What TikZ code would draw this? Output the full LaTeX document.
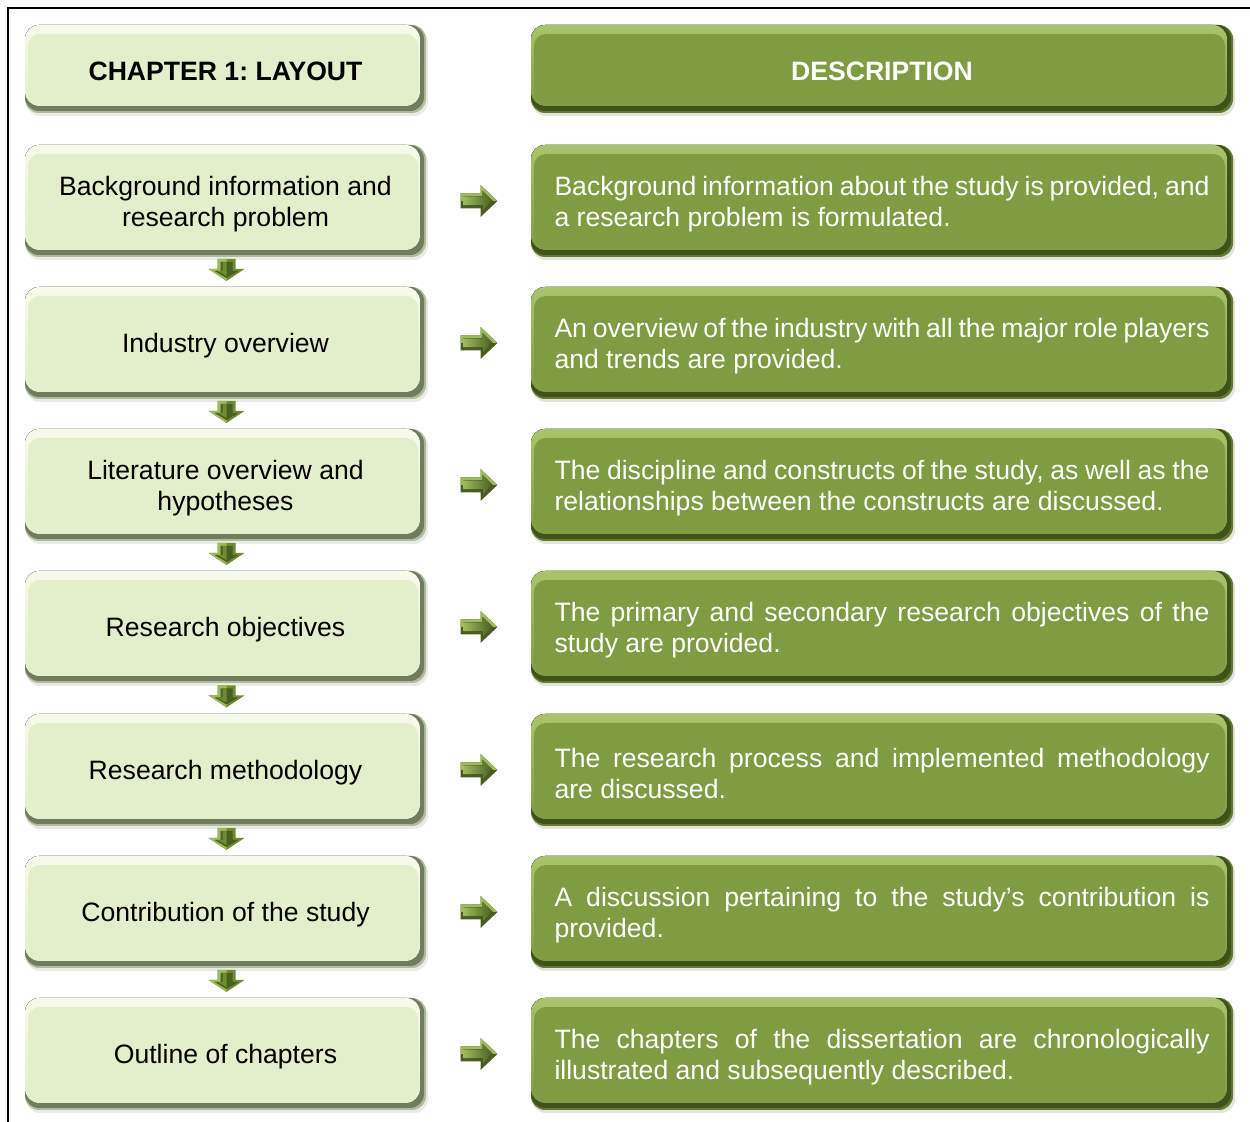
\documentclass[tikz,border=0pt]{standalone}
\usepackage{fontspec}
\setmainfont{Liberation Sans}
\usetikzlibrary{calc,fit}
\frenchspacing

\definecolor{lbase}{HTML}{E3EFCA}
\definecolor{llight}{HTML}{F6FAEC}
\definecolor{ldark}{HTML}{6F7C5E}
\definecolor{rbase}{HTML}{7F9C43}
\definecolor{rlight}{HTML}{A9C46A}
\definecolor{rdark}{HTML}{3F521B}
\definecolor{olivemid}{HTML}{6F8C34}
\definecolor{olivelight}{HTML}{9DBB5C}
\definecolor{olivedark}{HTML}{4A5E22}

% bevelled rounded panel: name, x1, y1, x2, y2, base, light, dark
\newcommand\panel[8]{%
  \fill[#8!50!white, opacity=0.3, rounded corners=7pt] (#2+1,#3+3) rectangle (#4+2,#5+3);
  \fill[#8!45!#6, rounded corners=7pt] (#2,#3) rectangle (#4,#5);
  \fill[#8, rounded corners=7pt] (#2,#3) rectangle (#4-2,#5-2);
  \fill[rounded corners=7pt, top color=#7, bottom color=#6] (#2,#3) rectangle (#4-6,#5-7);
  \fill[#6, rounded corners=6pt] (#2+3,#3+9) rectangle (#4-8,#5-10);
  \fill[#7, opacity=0.45, rounded corners=3pt] (#2+10,#3+3) rectangle (#4-12,#3+9);
  \node[fit={(#2,#3)(#4,#5)}, inner sep=0pt] (#1) {};
}

\tikzset{
  x=0.5pt, y=-0.5pt,
  lefttext/.style={align=center, text=black, font=\fontsize{13.3}{15.5}\selectfont\frenchspacing},
  righttext/.style={align=justify, text width=327.5pt, text=white, font=\fontsize{13.3}{15.5}\selectfont\frenchspacing},
  frameline/.style={line width=1.1pt, black},
}

% small faceted block arrows
\newcommand\downblock[1]{%
  \fill[olivemid] ($(#1)+(-9,-11)$) -- ($(#1)+(9,-11)$) -- ($(#1)+(9,-1)$) -- ($(#1)+(18,-1)$)
     -- ($(#1)+(0,11)$) -- ($(#1)+(-18,-1)$) -- ($(#1)+(-9,-1)$) -- cycle;
  \fill[olivelight] ($(#1)+(-9,-11)$) -- ($(#1)+(0,-11)$) -- ($(#1)+(0,11)$) -- ($(#1)+(-18,-1)$) -- ($(#1)+(-9,-1)$) -- cycle;
  \fill[olivedark] ($(#1)+(-6,-8)$) -- ($(#1)+(6,-8)$) -- ($(#1)+(6,1)$) -- ($(#1)+(12,1)$)
     -- ($(#1)+(0,8)$) -- ($(#1)+(-12,1)$) -- ($(#1)+(-6,1)$) -- cycle;
  \fill[olivemid] ($(#1)+(-4,-8)$) -- ($(#1)+(0,-8)$) -- ($(#1)+(0,6)$) -- ($(#1)+(-9,1)$) -- ($(#1)+(-4,1)$) -- cycle;
}
\newcommand\rightblock[1]{%
  \fill[olivedark] ($(#1)+(-18,-7.5)$) -- ($(#1)+(2,-7.5)$) -- ($(#1)+(2,-16)$) -- ($(#1)+(19,0)$)
     -- ($(#1)+(2,16)$) -- ($(#1)+(2,7.5)$) -- ($(#1)+(-18,7.5)$) -- cycle;
  \fill[olivelight] ($(#1)+(-18,-7.5)$) -- ($(#1)+(2,-7.5)$) -- ($(#1)+(2,-16)$) -- ($(#1)+(19,0)$)
     -- ($(#1)+(-18,0)$) -- cycle;
  \fill[left color=olivelight, right color=olivedark] ($(#1)+(-15,-4.5)$) -- ($(#1)+(4,-4.5)$) -- ($(#1)+(4,-10)$) -- ($(#1)+(14,0)$)
     -- ($(#1)+(4,10)$) -- ($(#1)+(4,4.5)$) -- ($(#1)+(-15,4.5)$) -- cycle;
}

\begin{document}
\begin{tikzpicture}
\useasboundingbox (0,0) rectangle (1250,1122);
\fill[white] (0,0) rectangle (1250,1122);

% outer frame
\draw[frameline] (8,1122) -- (8,8) -- (1250,8);

% header row
\panel{L0}{25}{25}{426}{113}{lbase}{llight}{ldark}
\panel{R0}{531}{25}{1233}{113}{rbase}{rlight}{rdark}
\node[lefttext, font=\fontsize{13.3}{15.5}\selectfont\bfseries\frenchspacing] at ($(L0.center)+(0,2)$) {CHAPTER 1: LAYOUT};
\node[text=white, font=\fontsize{13.3}{15.5}\selectfont\bfseries] at ($(R0.center)+(0,2)$) {DESCRIPTION};

% content rows
\foreach \i/\yt/\lt/\rt in {
  1/145/{Background information and\\research problem}/{Background information about the study is provided, and\linebreak a research problem is formulated.},
  2/287/{Industry overview}/{An overview of the industry with all the major role players\linebreak and trends are provided.},
  3/429/{Literature overview and\\hypotheses}/{The discipline and constructs of the study, as well as the\linebreak relationships between the constructs are discussed.},
  4/571/{Research objectives}/{The primary and secondary research objectives of the\linebreak study are provided.},
  5/714/{Research methodology}/{The research process and implemented methodology\linebreak are discussed.},
  6/856/{Contribution of the study}/{A discussion pertaining to the study's contribution is\linebreak provided.},
  7/998/{Outline of chapters}/{The chapters of the dissertation are chronologically\linebreak illustrated and subsequently described.}}{
  \pgfmathsetmacro\yb{\yt+112}
  \panel{L\i}{25}{\yt}{426}{\yb}{lbase}{llight}{ldark}
  \panel{R\i}{531}{\yt}{1233}{\yb}{rbase}{rlight}{rdark}
  \node[lefttext] at ($(L\i.center)+(0,3)$) {\lt};
  \node[righttext] at ($(R\i.center)+(0,3)$) {\rt};
}

% connectors between the panels
\foreach \i in {1,...,7}{
  \coordinate (h\i) at ($(L\i.east)!0.5!(R\i.west)$);
  \rightblock{h\i}
}
\foreach \i in {1,...,6}{
  \pgfmathtruncatemacro\j{\i+1}
  \coordinate (v\i) at ($(L\i.south)!0.5!(L\j.north)+(1,-2)$);
  \downblock{v\i}
}
\end{tikzpicture}
\end{document}
